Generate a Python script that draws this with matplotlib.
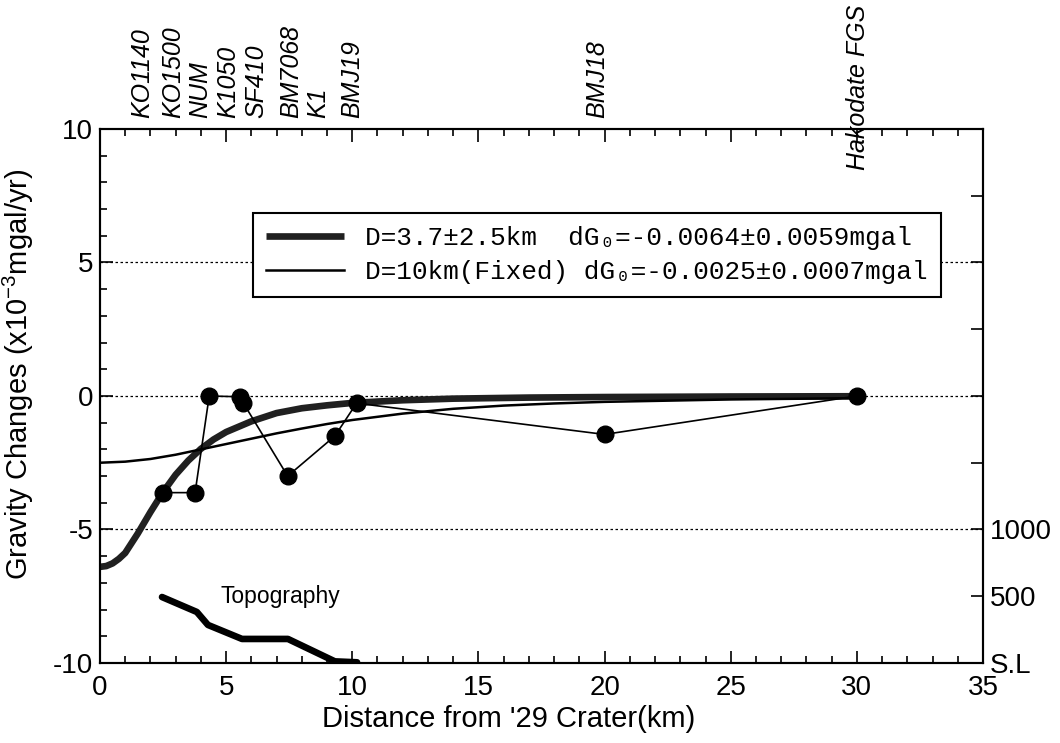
import numpy as np
import matplotlib
matplotlib.use("Agg")
import matplotlib.pyplot as plt

plt.rcParams["font.family"] = ["Liberation Sans", "DejaVu Sans"]
plt.rcParams["mathtext.fontset"] = "custom"
plt.rcParams["mathtext.rm"] = "Liberation Sans"
plt.rcParams["mathtext.default"] = "rm"
plt.rcParams["axes.unicode_minus"] = False

# observed gravity changes at stations (km, x10^-3 mgal/yr)
obs_dist = [2.48, 3.77, 4.33, 5.55, 5.68, 7.44, 9.31, 10.17, 20.0, 30.0]
obs_dg = [-3.62, -3.62, 0.0, -0.03, -0.26, -3.0, -1.5, -0.27, -1.44, 0.0]

# model curve D=3.7km
d37_dist = [0, 0.25, 0.5, 0.75, 1.0, 1.5, 2.0, 2.5, 3.0, 3.5, 4.0, 4.5, 5.0,
            6.0, 7.0, 8.0, 9.0, 10.0, 12.0, 14.0, 17.0, 20.0, 25.0, 30.0]
d37_dg = [-6.4, -6.37, -6.27, -6.1, -5.88, -5.15, -4.35, -3.6, -2.95, -2.42,
          -1.98, -1.63, -1.35, -0.95, -0.64, -0.46, -0.35, -0.26, -0.16,
          -0.1, -0.06, -0.04, -0.02, -0.01]

# model curve D=10km fixed
d10_dist = [0, 1, 2, 3, 4, 5, 6, 7, 8, 9, 10, 12, 14, 16, 18, 20, 25, 30]
d10_dg = [-2.5, -2.46, -2.36, -2.2, -2.0, -1.8, -1.6, -1.4, -1.22, -1.05,
          -0.9, -0.66, -0.48, -0.36, -0.28, -0.22, -0.13, -0.08]

# topography along the profile (m)
topo_dist = [2.46, 3.84, 4.28, 5.63, 7.45, 9.31, 10.19]
topo_elev = [494, 382, 285, 180, 180, 12, 5]

stations = ["KO1140", "KO1500", "NUM", "K1050", "SF410", "BM7068", "K1",
            "BMJ19", "BMJ18", "Hakodate FGS"]
station_label_x = [1.66, 2.89, 3.96, 5.07, 6.18, 7.57, 8.64, 9.99, 19.7, 30.04]
station_label_y = [10.4] * 9 + [8.45]

fig = plt.figure(figsize=(10.6, 7.43), dpi=100)
ax = fig.add_axes([0.0943, 0.1077, 0.8331, 0.7187])

for yv in [5, 0, -5]:
    ax.axhline(yv, color="black", lw=0.9, ls=(0, (2, 2)), zorder=1)

ax.plot(d37_dist, d37_dg, color="#202020", lw=4.8, zorder=3,
        solid_capstyle="butt",
        label="D=3.7±2.5km  dG\u2080=-0.0064±0.0059mgal")
ax.plot(d10_dist, d10_dg, color="black", lw=1.8, zorder=3,
        label="D=10km(Fixed) dG\u2080=-0.0025±0.0007mgal")
ax.plot(obs_dist, obs_dg, color="black", lw=1.2, marker="o", ms=12,
        zorder=4)

ax.set_xlim(0, 35)
ax.set_ylim(-10, 10)
ax.set_xticks(np.arange(0, 36, 5))
ax.set_xticks(np.arange(0, 36, 1), minor=True)
ax.set_yticks([-10, -5, 0, 5, 10])
ax.set_yticks(np.arange(-10, 11, 1), minor=True)
ax.tick_params(which="both", direction="in", top=True, right=False,
               labelsize=20, width=1.2)
ax.tick_params(which="major", length=9)
ax.tick_params(which="minor", length=5)
ax.tick_params(axis="x", pad=9)
ax.tick_params(axis="y", pad=5)
for sp in ax.spines.values():
    sp.set_linewidth(1.5)

ax.set_xlabel("Distance from '29 Crater(km)", fontsize=21)
ax.set_ylabel("Gravity Changes (x10$^{-3}$mgal/yr)", fontsize=21)
ax.xaxis.set_label_coords(0.463, -0.079)
ax.yaxis.set_label_coords(-0.072, 0.541)

leg = ax.legend(loc="upper left", bbox_to_anchor=(0.173, 0.843),
                prop={"family": ["Liberation Mono", "DejaVu Sans Mono"],
                      "size": 18.8},
                frameon=True, fancybox=False, edgecolor="black",
                handlelength=3.0, handletextpad=0.8, borderpad=0.5,
                labelspacing=0.4, borderaxespad=0)
leg.get_frame().set_linewidth(1.5)
leg.get_frame().set_alpha(1)
leg.set_zorder(5)

# topography on a twin axis
ax2 = ax.twinx()
ax2.set_ylim(0, 4000)
ax2.plot(topo_dist, topo_elev, color="black", lw=4.8,
         solid_capstyle="round", solid_joinstyle="round")
elev_ticks = np.arange(0, 4001, 500)
ax2.set_yticks(elev_ticks)
ax2.set_yticklabels(["S.L", "500", "1000"] + [""] * (len(elev_ticks) - 3))
ax2.tick_params(direction="in", length=9, width=1.2, labelsize=20, pad=5)
for sp in ax2.spines.values():
    sp.set_linewidth(1.5)
ax.text(7.17, -7.5, "Topography", fontsize=16.5, ha="center", va="center")

for name, xs, ys in zip(stations, station_label_x, station_label_y):
    ax.text(xs, ys, name, rotation=90, fontsize=18, style="italic",
            ha="center", va="bottom")

fig.savefig("out.png", dpi=100)
